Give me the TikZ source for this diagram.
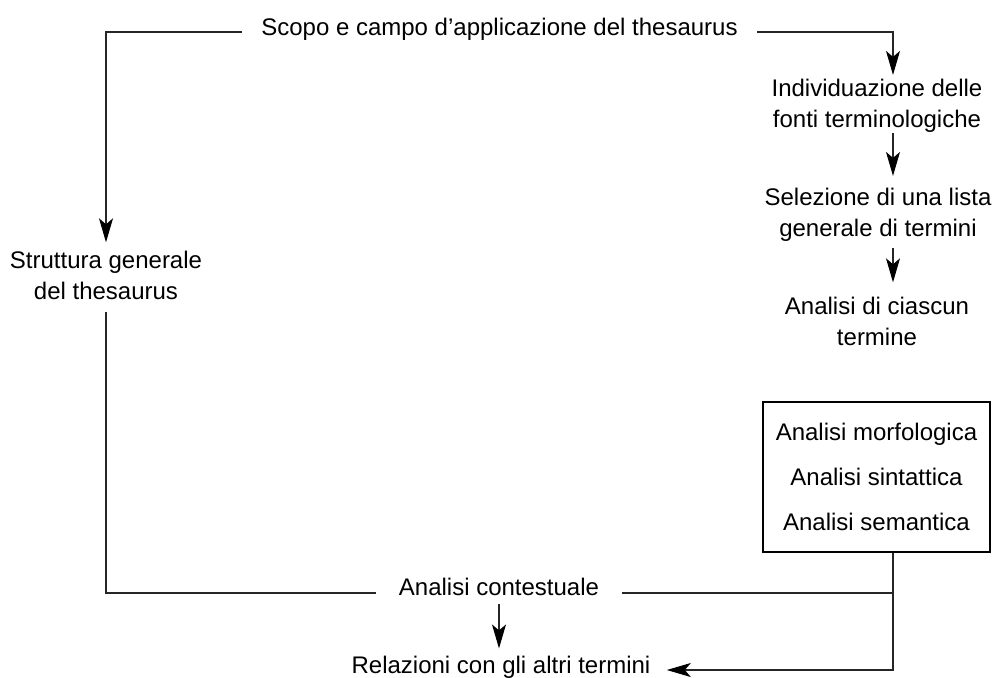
\documentclass[tikz,border=0pt]{standalone}
\usepackage{fontspec}
\setmainfont{Liberation Sans}
\usetikzlibrary{arrows.meta,calc}
\begin{document}
\begin{tikzpicture}[x=0.5pt,y=-0.5pt,
  every node/.style={font=\fontsize{12}{15.5}\selectfont, inner sep=0pt, align=center},
  conn/.style={line width=0.55pt, draw=black!85},
  arr/.style={conn, -{Stealth[length=12pt,width=7pt,inset=3pt,color=black]}},
  boxed/.style={draw=black, line width=0.6pt, minimum width=113.5pt, minimum height=75pt}
]
\useasboundingbox (0,0) rectangle (993,677);
\coordinate (R) at (893,0);
\node[inner xsep=9.5pt] (scope) at (499.5,29) {Scopo e campo d’applicazione del thesaurus};
\node (strut) at (106,275) {Struttura generale\\del thesaurus};
\node (individ) at (877,106) {Individuazione delle\\fonti terminologiche};
\node (selez) at (878,215) {Selezione di una lista\\generale di termini};
\node (ciasc) at (877,321) {Analisi di ciascun\\termine};
\node[boxed] (box) at (876.5,477) {Analisi morfologica\\[7pt]Analisi sintattica\\[7pt]Analisi semantica};
\node[inner xsep=11.5pt] (contest) at (499,587) {Analisi contestuale};
\node (relaz) at (501,667) {Relazioni con gli altri termini};

\draw[arr, shorten >=4pt] ([yshift=-1.5pt]scope.west) -| (strut.north);
\draw[arr, shorten >=2pt] ([yshift=-1.5pt]scope.east) -| (individ.north -| R);
\draw[arr, shorten >=6pt] (individ.south -| R) -- (selez.north -| R);
\draw[arr, shorten <=3pt, shorten >=7pt] (selez.south -| R) -- (ciasc.north -| R);
\draw[conn, shorten <=6pt] (strut.south) |- ([yshift=-3pt]contest.west);
\draw[conn] ([yshift=-3pt]contest.east) -- ([yshift=-3pt]contest.east -| R);
\draw[arr, shorten >=8pt] (box.south -| R) |- ([yshift=-1.5pt]relaz.east);
\draw[arr, shorten <=4pt, shorten >=3.5pt] (contest.south) -- (contest.south |- relaz.north);
\end{tikzpicture}
\end{document}
